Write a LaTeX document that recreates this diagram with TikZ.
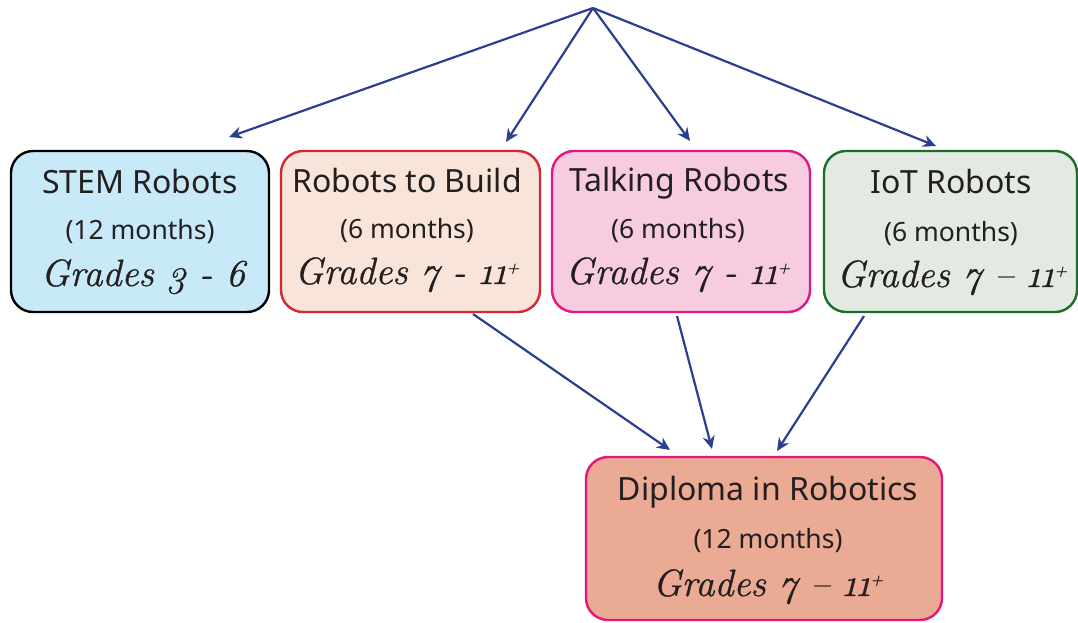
\documentclass[tikz,border=0pt]{standalone}
\usepackage{fontspec}
\setmainfont{Noto Sans}
\newfontfamily\gradefont{Latin Modern Roman}[Numbers=OldStyle, ItalicFeatures={FakeBold=0.8}]
\usetikzlibrary{arrows.meta,calc}
\definecolor{arrowblue}{HTML}{2B3F91}
\definecolor{stemfill}{HTML}{C8E9F8}
\definecolor{buildfill}{HTML}{F9E4DA}
\definecolor{buildline}{HTML}{D42A2F}
\definecolor{talkfill}{HTML}{F8CCE0}
\definecolor{pinkline}{HTML}{E6157F}
\definecolor{iotfill}{HTML}{E3EAE2}
\definecolor{iotline}{HTML}{1F6B2B}
\definecolor{dipfill}{HTML}{EAAA93}
\definecolor{textcol}{HTML}{231F20}
\newcommand{\plussup}{\raisebox{11pt}{\fontsize{17}{17}\selectfont +}}
\tikzset{
  box/.style={rounded corners=22pt, line width=2.4pt, inner sep=0pt},
  title/.style={text=textcol, font=\fontsize{32}{36}\selectfont, inner sep=0pt, anchor=base},
  months/.style={text=textcol, font=\fontsize{26.5}{30}\selectfont, inner sep=0pt, anchor=base},
  grades/.style={text=textcol, font=\gradefont\itshape\fontsize{38}{42}\selectfont, inner sep=0pt, anchor=base},
  arr/.style={draw=arrowblue, line width=2.2pt, -{Stealth[length=13pt,width=12pt]}}
}
\begin{document}
\begin{tikzpicture}[x=1pt,y=-1pt]
\useasboundingbox (0,0) rectangle (1078,623);
% boxes
\draw[box, fill=stemfill, draw=black] (11,151) rectangle (269,312);
\node (stem) at (140,231) {};
\draw[box, fill=buildfill, draw=buildline] (281,151) rectangle (540,312);
\node (build) at (410,231) {};
\draw[box, fill=talkfill, draw=pinkline] (552,151) rectangle (810,312);
\node (talk) at (681,231) {};
\draw[box, fill=iotfill, draw=iotline] (824,151) rectangle (1077,312);
\node (iot) at (950,231) {};
\draw[box, fill=dipfill, draw=pinkline] (586,457) rectangle (942,620);
\node (dip) at (764,538) {};
% texts
\node[title] (t1) at (140,193) {STEM Robots};
\node[months] (m1) at (140,239) {(12 months)};
\node[grades] (g1) at (143,286) {Grades 3 - 6};
\node[title] (t2) at (407,192) {Robots to Build};
\node[months] (m2) at (407,238) {(6 months)};
\node[grades] (g2) at (407,284) {Grades 7 - 11\plussup};
\node[title] (t3) at (679,191) {Talking Robots};
\node[months] (m3) at (678,238) {(6 months)};
\node[grades] (g3) at (678,284) {Grades 7 - 11\plussup};
\node[title] (t4) at (951,193) {IoT Robots};
\node[months] (m4) at (951,241) {(6 months)};
\node[grades] (g4) at (952,287) {Grades 7 – 11\plussup};
\node[title] (t5) at (768,500) {Diploma in Robotics};
\node[months] (m5) at (768,548) {(12 months)};
\node[grades] (g5) at (768,596) {Grades 7 – 11\plussup};
% connectors
\coordinate (apex) at (593,8);
\coordinate (e1) at (229,137);
\coordinate (e2) at (506,142);
\coordinate (e3) at (690,141);
\coordinate (e4) at (936,146);
\draw[arr] (apex) -- (e1);
\draw[arr] (apex) -- (e2);
\draw[arr] (apex) -- (e3);
\draw[arr] (apex) -- (e4);
\coordinate (s2) at (473,314);
\coordinate (s3) at (677,316);
\coordinate (s4) at (864,316);
\coordinate (d2) at (670,450);
\coordinate (d3) at (712,449);
\coordinate (d4) at (777,451);
\draw[arr] (s2) -- (d2);
\draw[arr] (s3) -- (d3);
\draw[arr] (s4) -- (d4);
\end{tikzpicture}
\end{document}
